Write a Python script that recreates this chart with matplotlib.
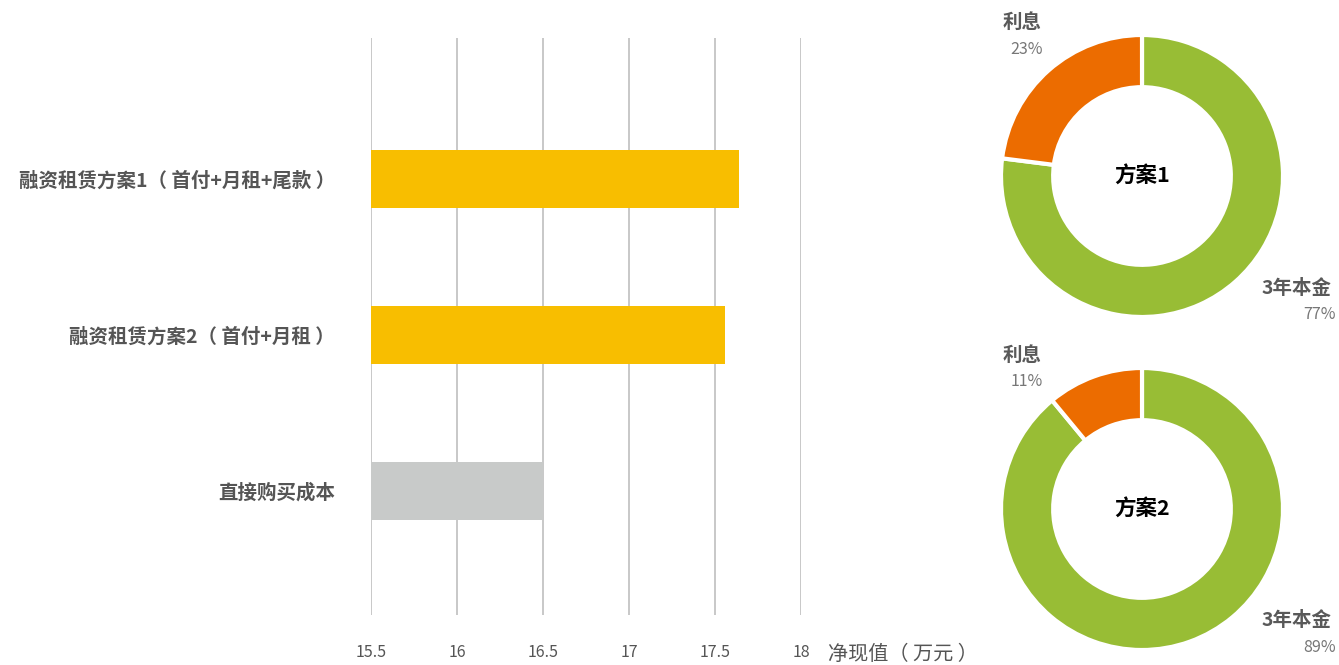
import numpy as np
import matplotlib
matplotlib.use("Agg")
import matplotlib.pyplot as plt

plt.rcParams['font.family'] = ['Noto Sans CJK SC', 'DejaVu Sans']

# bar chart data
categories = ['融资租赁方案1（ 首付+月租+尾款 ）', '融资租赁方案2（ 首付+月租 ）', '直接购买成本']
npv_values = [17.64, 17.56, 16.5]
bar_colors = ['#F8BE00', '#F8BE00', '#C8CAC9']
x_ticks = [15.5, 16, 16.5, 17, 17.5, 18]
x_tick_labels = ['15.5', '16', '16.5', '17', '17.5', '18']

# donut data
donut_titles = ['方案1', '方案2']
donut_parts = ['3年本金', '利息']
donut_shares = [[77, 23], [89, 11]]
donut_colors = ['#98BD35', '#EC6C00']

W, H = 1339, 665
fig = plt.figure(figsize=(W / 100, H / 100), dpi=100)


def px_box(x0, y0, x1, y1):
    return [x0 / W, 1 - y1 / H, (x1 - x0) / W, (y1 - y0) / H]


# ---- bars
ax = fig.add_axes(px_box(371, 38, 801, 615))
y = np.arange(len(categories))
ax.barh(y, [v - 15.5 for v in npv_values], left=15.5, height=0.37,
        color=bar_colors, zorder=3)
ax.set_xlim(15.5, 18)
ax.set_ylim(2.795, -0.904)
ax.set_xticks(x_ticks)
ax.set_xticklabels(x_tick_labels)
ax.set_yticks(y)
ax.set_yticklabels(categories, fontweight='bold')
ax.tick_params(axis='x', length=0, pad=21, labelsize=11.5, labelcolor='#555555')
ax.tick_params(axis='y', length=0, pad=26, labelsize=14, labelcolor='#555555')
ax.grid(axis='x', color='#BFBFBF', linewidth=1.2, zorder=0)
for s in ax.spines.values():
    s.set_visible(False)
fig.text(828 / W, 1 - 654 / H, '净现值（ 万元 ）', fontsize=14.5, color='#555555',
         ha='left', va='center')

# ---- donuts
centers = [(1142, 176), (1142, 509)]
R = 141
for (cx, cy), title, shares in zip(centers, donut_titles, donut_shares):
    dax = fig.add_axes(px_box(cx - R, cy - R, cx + R, cy + R))
    dax.pie(shares, colors=donut_colors, startangle=90, counterclock=False,
            radius=1, wedgeprops=dict(width=0.37, edgecolor='white', linewidth=3))
    dax.set_xlim(-1, 1)
    dax.set_ylim(-1, 1)
    dax.set_aspect('equal')
    dax.axis('off')
    dax.text(0, 0, title, ha='center', va='center', fontsize=15.5,
             fontweight='bold', color='black')
    # labels
    fig.text((cx - 120) / W, 1 - (cy - 154) / H, donut_parts[1], fontsize=14,
             fontweight='bold', color='#595959', ha='center', va='center')
    fig.text((cx - 115) / W, 1 - (cy - 127) / H, f'{shares[1]}%', fontsize=11.5,
             color='#777777', ha='center', va='center')
    fig.text((cx + 155) / W, 1 - (cy + 112) / H, donut_parts[0], fontsize=14,
             fontweight='bold', color='#595959', ha='center', va='center')
    fig.text((cx + 178) / W, 1 - (cy + 139) / H, f'{shares[0]}%', fontsize=11.5,
             color='#777777', ha='center', va='center')

fig.savefig('out.png', dpi=100, facecolor='white')
